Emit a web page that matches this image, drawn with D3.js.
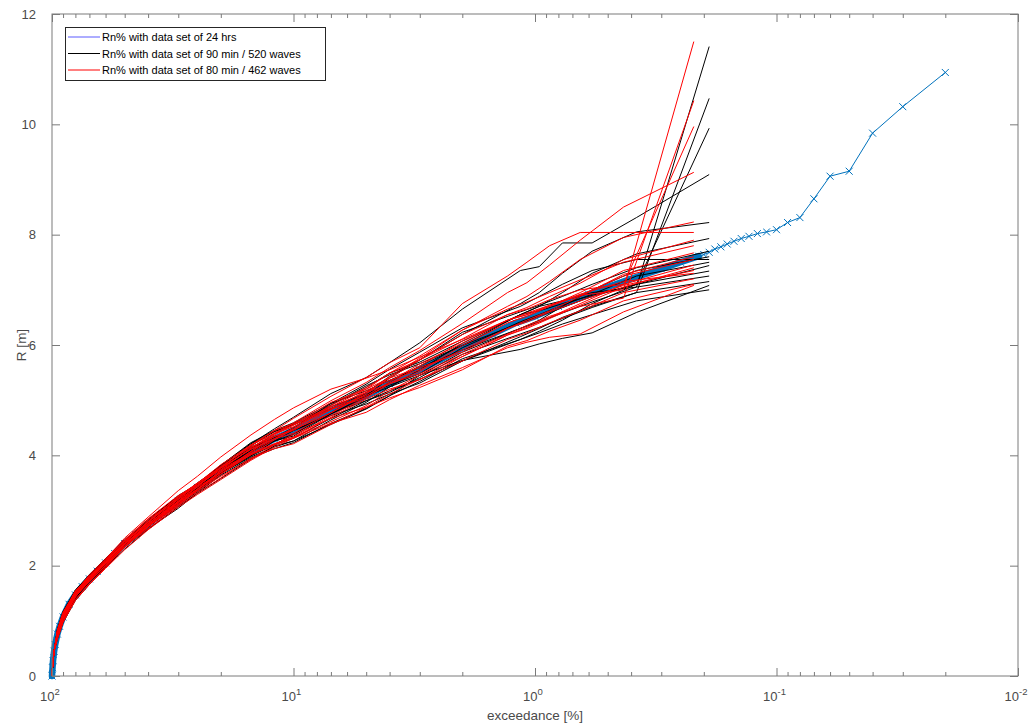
<!DOCTYPE html>
<html>
<head>
<meta charset="utf-8">
<script src="https://cdn.jsdelivr.net/npm/d3@7/dist/d3.min.js"></script>
<style>
  html, body { margin: 0; padding: 0; background: #fff; }
  svg { display: block; font-family: "Liberation Sans", Arial, Helvetica, sans-serif; }
</style>
</head>
<body>
<svg id="chart" width="1031" height="724"></svg>
<script>
// ---------------- DATA ----------------
const legendLabels = [
  "Rn% with data set of 24 hrs",
  "Rn% with data set of 90 min / 520 waves",
  "Rn% with data set of 80 min / 462 waves"
];
const xMajorTicks = [100, 10, 1, 0.1, 0.01];
const xMajorLabels = ["2", "1", "0", "-1", "-2"];   // exponents of 10
const yTicks = [0, 2, 4, 6, 8, 10, 12];

// 24 hrs data set (exceedance %, R m)
const blueP = [100, 99.5, 99, 98, 97, 95, 93, 90, 85, 80, 75, 70, 65, 60, 55, 50, 45, 40, 35, 30, 25, 20, 15, 12, 10, 8, 6, 5, 4, 3, 2.5, 2, 1.5, 1.2, 1, 0.8, 0.6, 0.5, 0.4, 0.3, 0.25, 0.21, 0.2, 0.19, 0.18, 0.17, 0.16, 0.15, 0.14, 0.13, 0.12, 0.11, 0.10, 0.09, 0.08, 0.07, 0.06, 0.05, 0.04, 0.03, 0.02];
const blueR = [0, 0.15, 0.28, 0.45, 0.57, 0.76, 0.9, 1.07, 1.3, 1.47, 1.62, 1.76, 1.9, 2.05, 2.22, 2.4, 2.56, 2.75, 2.95, 3.17, 3.42, 3.72, 4.07, 4.3, 4.45, 4.68, 4.93, 5.08, 5.3, 5.55, 5.72, 5.95, 6.2, 6.4, 6.52, 6.7, 6.92, 7.05, 7.2, 7.38, 7.5, 7.61, 7.64, 7.68, 7.74, 7.78, 7.83, 7.88, 7.93, 7.97, 8.02, 8.05, 8.09, 8.22, 8.31, 8.65, 9.06, 9.15, 9.84, 10.32, 10.94];

// common start of every sub-sample curve
const headP = [100, 99.5, 99, 98];
const headR = [0, 0.15, 0.28, 0.45];

// 90 min / 520 waves sub-samples (R at blackP)
const blackP = [95, 90, 80, 70, 60, 50, 40, 30, 25, 20, 15, 12, 10, 7, 5, 4, 3, 2, 1.15, 0.96, 0.77, 0.58, 0.38, 0.19];
const black01 = [0.81,1.12,1.50,1.76,2.03,2.36,2.72,3.17,3.46,3.80,4.15,4.34,4.45,4.75,5.05,5.33,5.62,5.99,6.55,6.70,6.80,6.95,7.05,11.41];
const black02 = [0.72,1.02,1.41,1.70,1.99,2.35,2.71,3.09,3.34,3.66,4.01,4.19,4.31,4.67,4.99,5.17,5.38,5.71,6.15,6.30,6.50,6.70,6.95,10.47];
const black03 = [0.84,1.16,1.56,1.81,2.11,2.47,2.84,3.25,3.48,3.82,4.21,4.43,4.57,4.91,5.23,5.49,5.69,6.07,6.55,6.62,6.75,6.90,7.10,9.93];
const black04 = [0.76,1.07,1.49,1.76,2.07,2.41,2.79,3.23,3.50,3.80,4.21,4.48,4.69,5.12,5.41,5.68,6.04,6.65,7.35,7.42,7.85,7.85,8.31,9.09];
const black05 = [0.75,1.05,1.47,1.79,2.06,2.39,2.71,3.14,3.42,3.75,4.09,4.26,4.38,4.77,5.14,5.43,5.73,6.19,6.75,6.95,7.30,7.70,8.05,8.22];
const black06 = [0.79,1.10,1.52,1.83,2.10,2.42,2.75,3.14,3.36,3.67,3.97,4.15,4.26,4.64,4.96,5.24,5.55,6.03,6.55,6.70,6.95,7.30,7.65,7.93];
const black07 = [0.69,0.99,1.41,1.73,2.05,2.44,2.82,3.27,3.48,3.77,4.17,4.43,4.55,4.85,5.08,5.24,5.45,5.87,6.30,6.45,6.70,7.00,7.35,7.60];
const black08 = [0.76,1.07,1.44,1.71,1.98,2.30,2.66,3.07,3.31,3.58,3.93,4.17,4.26,4.56,4.84,5.08,5.34,5.75,6.10,6.25,6.45,6.75,7.10,7.44];
const black09 = [0.82,1.14,1.55,1.80,2.06,2.40,2.78,3.23,3.46,3.74,4.05,4.30,4.50,4.91,5.26,5.46,5.66,5.99,6.40,6.52,6.68,6.88,7.10,7.34];
const black10 = [0.67,0.97,1.37,1.66,1.97,2.34,2.67,3.04,3.32,3.64,3.95,4.12,4.23,4.58,4.85,5.08,5.45,5.72,5.92,6.02,6.12,6.22,6.59,7.08];
const black11 = [0.78,1.09,1.46,1.72,2.03,2.40,2.78,3.19,3.41,3.67,3.99,4.26,4.45,4.72,4.93,5.11,5.31,5.71,6.10,6.22,6.38,6.55,6.80,7.00];
const black12 = [0.73,1.04,1.47,1.79,2.09,2.45,2.79,3.19,3.39,3.70,4.11,4.39,4.57,4.88,5.11,5.27,5.48,5.95,6.42,6.55,6.72,6.92,7.25,7.50];
const black13 = [0.85,1.17,1.55,1.84,2.13,2.46,2.79,3.20,3.48,3.82,4.23,4.45,4.59,4.94,5.17,5.36,5.59,5.91,6.30,6.42,6.58,6.78,7.05,7.25];
const black14 = [0.70,1.00,1.40,1.72,2.04,2.38,2.70,3.12,3.41,3.74,4.07,4.26,4.35,4.75,5.08,5.40,5.73,6.23,6.60,6.72,6.88,7.10,7.40,7.70];
const black15 = [0.79,1.10,1.49,1.75,2.01,2.34,2.70,3.14,3.42,3.69,3.99,4.19,4.38,4.77,4.99,5.14,5.41,5.83,6.20,6.32,6.48,6.68,6.95,7.15];
const black16 = [0.76,1.07,1.50,1.81,2.07,2.40,2.74,3.19,3.46,3.78,4.13,4.32,4.50,4.94,5.29,5.56,5.87,6.31,6.70,6.88,7.10,7.35,7.55,7.55];

// 80 min / 462 waves sub-samples (R at redP)
const redP = [95, 90, 80, 70, 60, 50, 40, 30, 25, 20, 15, 12, 10, 7, 5, 4, 3, 2, 1.3, 1.08, 0.87, 0.65, 0.43, 0.22];
const red01 = [0.81,1.12,1.53,1.79,2.05,2.42,2.80,3.25,3.46,3.74,4.13,4.41,4.55,4.85,5.08,5.33,5.66,6.03,6.45,6.58,6.72,6.90,7.00,11.50];
const red02 = [0.73,1.04,1.43,1.75,2.06,2.39,2.71,3.11,3.39,3.72,4.03,4.21,4.33,4.72,5.05,5.30,5.48,5.83,6.20,6.35,6.52,6.70,6.85,10.43];
const red03 = [0.84,1.16,1.52,1.77,2.09,2.46,2.83,3.23,3.45,3.78,4.19,4.45,4.57,4.88,5.20,5.49,5.73,6.11,6.55,6.65,6.82,7.00,7.10,9.96];
const red04 = [0.76,1.07,1.50,1.80,2.06,2.39,2.75,3.20,3.48,3.77,4.11,4.39,4.59,4.99,5.32,5.59,5.90,6.39,6.95,7.13,7.45,7.90,8.50,9.13];
const red05 = [0.72,1.02,1.46,1.77,2.07,2.44,2.76,3.15,3.38,3.69,4.07,4.34,4.47,4.77,5.11,5.43,5.76,6.27,6.70,6.88,7.15,7.55,7.95,8.23];
const red06 = [0.78,1.09,1.47,1.73,2.04,2.41,2.79,3.25,3.50,3.78,4.17,4.45,4.67,5.07,5.41,5.68,5.95,6.75,7.25,7.50,7.80,8.04,8.04,8.04];
const red07 = [0.75,1.05,1.44,1.71,2.01,2.39,2.76,3.17,3.39,3.66,4.01,4.28,4.47,4.88,5.14,5.30,5.52,5.99,6.40,6.52,6.70,6.95,7.35,7.67];
const red08 = [0.81,1.12,1.50,1.76,2.03,2.35,2.67,3.09,3.38,3.70,4.01,4.19,4.31,4.69,5.02,5.20,5.37,5.79,6.18,6.30,6.48,6.72,7.05,7.40];
const red09 = [0.68,0.98,1.37,1.66,1.95,2.29,2.65,3.06,3.29,3.56,3.91,4.15,4.31,4.58,4.78,5.01,5.27,5.59,5.95,6.05,6.14,6.20,6.60,7.08];
const red10 = [0.81,1.12,1.53,1.83,2.12,2.50,2.88,3.36,3.62,3.97,4.37,4.65,4.86,5.20,5.40,5.55,5.78,6.10,6.45,6.55,6.72,6.92,7.15,7.30];
const red11 = [0.78,1.09,1.52,1.83,2.12,2.45,2.78,3.22,3.49,3.83,4.19,4.39,4.52,4.83,5.05,5.30,5.62,6.07,6.45,6.55,6.70,6.90,7.25,7.55];
const red12 = [0.73,1.04,1.47,1.77,2.04,2.36,2.72,3.17,3.45,3.74,4.05,4.30,4.50,4.91,5.23,5.49,5.80,6.27,6.65,6.78,6.95,7.18,7.50,7.80];
const red13 = [0.76,1.07,1.44,1.72,1.99,2.33,2.70,3.14,3.36,3.62,3.93,4.19,4.38,4.67,4.87,5.11,5.38,5.71,6.10,6.22,6.40,6.62,6.95,7.20];
const red14 = [0.82,1.14,1.55,1.80,2.07,2.40,2.72,3.15,3.43,3.77,4.11,4.30,4.40,4.77,5.14,5.40,5.59,5.87,6.30,6.45,6.62,6.88,7.28,7.60];
const red15 = [0.70,1.00,1.43,1.75,2.06,2.44,2.80,3.20,3.42,3.69,4.07,4.37,4.55,4.96,5.20,5.40,5.73,6.19,6.55,6.68,6.88,7.12,7.55,7.90];
const red16 = [0.79,1.10,1.47,1.73,2.00,2.36,2.74,3.12,3.35,3.66,4.03,4.21,4.33,4.61,4.90,5.17,5.45,5.79,6.18,6.32,6.50,6.75,7.10,7.45];
const red17 = [0.75,1.05,1.49,1.80,2.10,2.47,2.85,3.27,3.48,3.80,4.15,4.34,4.45,4.83,5.17,5.36,5.55,5.91,6.30,6.42,6.60,6.80,7.08,7.35];
const red18 = [0.67,0.97,1.39,1.68,1.97,2.34,2.71,3.09,3.32,3.59,3.95,4.12,4.21,4.56,4.87,5.04,5.23,5.55,5.98,6.08,6.25,6.45,6.80,7.10];

const blackSeries = [black01,black02,black03,black04,black05,black06,black07,black08,black09,black10,black11,black12,black13,black14,black15,black16];
const redSeries = [red01,red02,red03,red04,red05,red06,red07,red08,red09,red10,red11,red12,red13,red14,red15,red16,red17,red18];

// ---------------- CHART ----------------
const plot = {left: 52, right: 1018, top: 14, bottom: 676};
const axisColor = "#7a7a7a";
const textColor = "#4a4a4a";
const blueColor = "#0072BD";

const svg = d3.select("#chart");
const x = d3.scaleLog().domain([100, 0.01]).range([plot.left, plot.right]);
const y = d3.scaleLinear().domain([0, 12]).range([plot.bottom, plot.top]);

const toPts = (P, R) => P.map((p, i) => [p, R[i]]);
const line = d3.line().x(d => x(d[0])).y(d => y(d[1]));

const gPlot = svg.append("g");

// 24-hr curve: dense part (overlapping markers) as a band, then line + x markers
const bluePts = toPts(blueP, blueR);
gPlot.append("path")
  .attr("d", line(bluePts.filter(d => d[0] >= 0.21)))
  .attr("fill", "none").attr("stroke", blueColor).attr("stroke-width", 6.5)
  .attr("stroke-linejoin", "round").attr("stroke-linecap", "round");
gPlot.append("path")
  .attr("d", line(bluePts))
  .attr("fill", "none").attr("stroke", blueColor).attr("stroke-width", 1);
const ms = 3.5;
gPlot.append("g").selectAll("path").data(bluePts).join("path")
  .attr("d", d => {
    const cx = x(d[0]), cy = y(d[1]);
    return `M${cx-ms},${cy-ms}L${cx+ms},${cy+ms}M${cx-ms},${cy+ms}L${cx+ms},${cy-ms}`;
  })
  .attr("stroke", blueColor).attr("stroke-width", 1).attr("fill", "none");

// sub-sample curves
function drawSet(series, P, color) {
  gPlot.append("g").selectAll("path").data(series).join("path")
    .attr("d", R => line(toPts(headP, headR).concat(toPts(P, R))))
    .attr("fill", "none").attr("stroke", color).attr("stroke-width", 1);
}
drawSet(blackSeries, blackP, "#000000");
drawSet(redSeries, redP, "#ff0000");

// ---------------- AXES ----------------
const minorTicks = x.ticks().filter(v => !xMajorTicks.some(m => Math.abs(m - v) / m < 1e-9));
function styleAxis(g) {
  g.select(".domain").remove();
  g.selectAll("line").attr("stroke", axisColor);
}
svg.append("rect")
  .attr("x", plot.left).attr("y", plot.top)
  .attr("width", plot.right - plot.left).attr("height", plot.bottom - plot.top)
  .attr("fill", "none").attr("stroke", axisColor).attr("stroke-width", 1);

const bottomMajor = svg.append("g").attr("transform", `translate(0,${plot.bottom})`)
  .call(d3.axisBottom(x).tickValues(xMajorTicks).tickSizeInner(-8).tickSizeOuter(0).tickFormat(""));
styleAxis(bottomMajor);
const bottomMinor = svg.append("g").attr("transform", `translate(0,${plot.bottom})`)
  .call(d3.axisBottom(x).tickValues(minorTicks).tickSizeInner(-4).tickSizeOuter(0).tickFormat(""));
styleAxis(bottomMinor);
const topMajor = svg.append("g").attr("transform", `translate(0,${plot.top})`)
  .call(d3.axisTop(x).tickValues(xMajorTicks).tickSizeInner(-8).tickSizeOuter(0).tickFormat(""));
styleAxis(topMajor);
const topMinor = svg.append("g").attr("transform", `translate(0,${plot.top})`)
  .call(d3.axisTop(x).tickValues(minorTicks).tickSizeInner(-4).tickSizeOuter(0).tickFormat(""));
styleAxis(topMinor);

const leftAxis = svg.append("g").attr("transform", `translate(${plot.left},0)`)
  .call(d3.axisLeft(y).tickValues(yTicks).tickSizeInner(-8).tickSizeOuter(0).tickPadding(16).tickFormat(d3.format("d")));
styleAxis(leftAxis);
leftAxis.selectAll("text").attr("fill", textColor).attr("font-size", 13)
  .attr("font-family", "Liberation Sans, Arial, sans-serif");
const rightAxis = svg.append("g").attr("transform", `translate(${plot.right},0)`)
  .call(d3.axisRight(y).tickValues(yTicks).tickSizeInner(-8).tickSizeOuter(0).tickFormat(""));
styleAxis(rightAxis);

// x tick labels as 10^n
const xl = svg.append("g");
xMajorTicks.forEach((v, i) => {
  const t = xl.append("text")
    .attr("x", x(v) - 2).attr("y", 701)
    .attr("text-anchor", "middle").attr("fill", textColor).attr("font-size", 13);
  t.append("tspan").text("10");
  t.append("tspan").attr("dy", -6).attr("font-size", 9.5).text(xMajorLabels[i]);
});

// axis titles
svg.append("text")
  .attr("x", (plot.left + plot.right) / 2).attr("y", 720)
  .attr("text-anchor", "middle").attr("fill", textColor).attr("font-size", 13.5)
  .text("exceedance [%]");
svg.append("text")
  .attr("transform", `translate(26,${(plot.top + plot.bottom) / 2}) rotate(-90)`)
  .attr("text-anchor", "middle").attr("fill", textColor).attr("font-size", 13.5)
  .text("R [m]");

// ---------------- LEGEND ----------------
const leg = svg.append("g");
leg.append("rect").attr("x", 65.5).attr("y", 27.5).attr("width", 260).attr("height", 53)
  .attr("fill", "#fff").attr("stroke", "#262626").attr("stroke-width", 1);
const legColors = ["#5a5aff", "#000000", "#ff0000"];
legendLabels.forEach((lab, i) => {
  const ly = 37 + i * 16.5;
  leg.append("line").attr("x1", 68).attr("x2", 100).attr("y1", ly).attr("y2", ly)
    .attr("stroke", legColors[i]).attr("stroke-width", 1);
  leg.append("text").attr("x", 102).attr("y", ly + 4)
    .attr("font-size", 11).attr("fill", "#000").text(lab);
});
</script>
</body>
</html>
